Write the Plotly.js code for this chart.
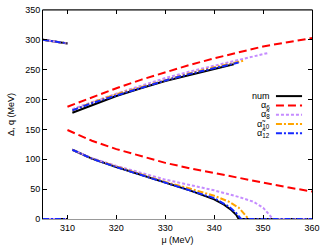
<!DOCTYPE html>
<html>
<head>
<meta charset="utf-8">
<script src="https://cdn.plot.ly/plotly-3.0.1.min.js"></script>
<style>
  html, body { margin: 0; padding: 0; background: #fff; }
  #chart { width: 332px; height: 249px; }
</style>
</head>
<body>
<div id="chart"></div>
<script>
// short piece at top left and the zero piece (mu < 310)
const muTop = [305, 307.5, 310];
const valTop = [300, 297, 294];
const muZeroLeft = [305, 310];
const valZeroLeft = [0, 0];

// num
const numUpperMu = [311, 315, 320, 325, 330, 335, 340, 344];
const numUpper = [178, 191, 206, 219, 231, 241, 251, 259];
const numLowerMu = [311, 315, 320, 325, 330, 335, 340, 342, 343.5, 344.5, 345, 360];
const numLower = [116, 101, 87, 74, 60, 48, 33, 24, 15, 7, 0, 0];

// alpha_6
const a6Mu = [310, 315, 320, 325, 330, 335, 340, 345, 350, 355, 360];
const a6Upper = [188, 204, 219, 233, 246, 258, 269, 279, 289, 296, 303];
const a6Lower = [149, 131, 117, 105, 94, 85, 77, 68, 60, 53, 46];

// alpha~_8
const a8UpperMu = [311, 315, 320, 325, 330, 335, 340, 345, 351];
const a8Upper = [184, 196, 210, 223, 236, 247, 257, 267, 278];
const a8LowerMu = [311, 315, 320, 325, 330, 335, 340, 345, 348, 350, 351, 352, 360];
const a8Lower = [116, 102, 89, 77, 66, 57, 48, 37, 29, 19, 10, 0, 0];

// alpha~_10
const a10UpperMu = [311, 315, 320, 325, 330, 335, 340, 346];
const a10Upper = [182, 195, 209, 221, 233, 244, 254, 265];
const a10LowerMu = [311, 315, 320, 325, 330, 335, 340, 343, 345, 346, 347, 360];
const a10Lower = [116, 101, 88, 75, 62, 51, 39, 29, 19, 10, 0, 0];

// alpha~_12
const a12UpperMu = [311, 315, 320, 325, 330, 335, 340, 345];
const a12Upper = [182, 194, 207, 220, 232, 243, 252, 262];
const a12LowerMu = [311, 315, 320, 325, 330, 335, 340, 343, 344.5, 345.5, 360];
const a12Lower = [116, 101, 87, 74, 61, 49, 35, 21, 10, 0, 0];

const seriesNames = ["num", "α<sub>6</sub>", "α\u0303<sub>8</sub>", "α\u0303<sub>10</sub>", "α\u0303<sub>12</sub>"];

// join pieces with null gaps
function joinPieces(pieces) {
    const x = [], y = [];
    pieces.forEach(([px, py], i) => {
        if (i > 0) { x.push(null); y.push(null); }
        x.push(...px); y.push(...py);
    });
    return { x, y };
}

const styles = [
    { color: "#000000", width: 2, dash: "solid" },
    { color: "#ff0000", width: 2, dash: "8px,4px" },
    { color: "#c58cff", width: 2, dash: "3px,2px" },
    { color: "#ffa500", width: 2, dash: "6px,2px,2px,2px" },
    { color: "#1428ff", width: 2, dash: "6px,2px,2px,2px" },
];

const pieceSets = [
    [[muTop, valTop], [muZeroLeft, valZeroLeft], [numUpperMu, numUpper], [numLowerMu, numLower]],
    [[a6Mu, a6Upper], [a6Mu, a6Lower]],
    [[muTop, valTop], [muZeroLeft, valZeroLeft], [a8UpperMu, a8Upper], [a8LowerMu, a8Lower]],
    [[muTop, valTop], [muZeroLeft, valZeroLeft], [a10UpperMu, a10Upper], [a10LowerMu, a10Lower]],
    [[muTop, valTop], [muZeroLeft, valZeroLeft], [a12UpperMu, a12Upper], [a12LowerMu, a12Lower]],
];

const traces = pieceSets.map((pieces, i) => {
    const { x, y } = joinPieces(pieces);
    return {
        x, y,
        type: "scatter",
        mode: "lines",
        name: seriesNames[i],
        line: styles[i],
        showlegend: false,
        hoverinfo: "skip",
    };
});

// hand-made legend (text left of the sample line, like the original)
const legX0 = 0.866, legX1 = 0.963, legTextX = 0.852;
const legY0 = 0.588, legStep = 0.0445;
const shapes = [
    // top frame line in black, bottom one stays grey
    { type: "line", xref: "paper", yref: "paper", x0: 0, x1: 1, y0: 1, y1: 1,
      line: { color: "#000", width: 1 } },
];
const annotations = [];
seriesNames.forEach((name, i) => {
    const yy = legY0 - i * legStep;
    shapes.push({
        type: "line", xref: "paper", yref: "paper",
        x0: legX0, x1: legX1, y0: yy, y1: yy,
        line: { color: styles[i].color, width: 2, dash: styles[i].dash },
    });
    annotations.push({
        xref: "paper", yref: "paper", x: legTextX, y: yy,
        xanchor: "right", yanchor: "middle", showarrow: false,
        text: name, font: { size: 9, color: "#000" },
    });
});

const layout = {
    width: 332,
    height: 249,
    margin: { l: 43, r: 20, t: 10, b: 30 },
    paper_bgcolor: "#fff",
    plot_bgcolor: "#fff",
    font: { family: "Liberation Sans, Arial, sans-serif", size: 9, color: "#000" },
    showlegend: false,
    xaxis: {
        range: [305, 360],
        tickvals: [310, 320, 330, 340, 350, 360],
        ticks: "inside",
        ticklen: 4,
        tickcolor: "#000",
        showgrid: false,
        zeroline: false,
        showline: true,
        linecolor: "#999",
        linewidth: 1,
        mirror: "ticks",
        title: { text: "μ (MeV)", font: { size: 9 }, standoff: 4 },
    },
    yaxis: {
        range: [0, 350],
        tickvals: [0, 50, 100, 150, 200, 250, 300, 350],
        ticks: "inside",
        ticklen: 4,
        tickcolor: "#000",
        showgrid: false,
        zeroline: false,
        showline: true,
        linecolor: "#000",
        linewidth: 1,
        mirror: "ticks",
        title: { text: "Δ, q (MeV)", font: { size: 9 }, standoff: 9 },
    },
    shapes,
    annotations,
};

Plotly.newPlot("chart", traces, layout, { displayModeBar: false, staticPlot: true });
</script>
</body>
</html>
